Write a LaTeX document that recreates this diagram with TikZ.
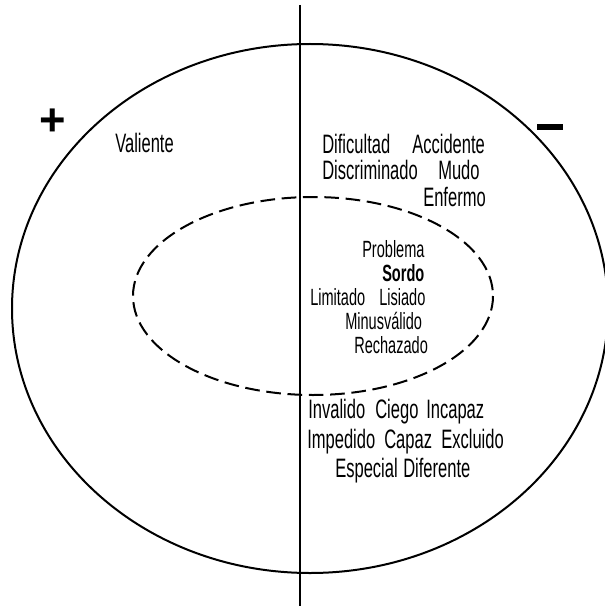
\documentclass[tikz,border=0pt]{standalone}
\usepackage{fontspec}
\setmainfont{Liberation Sans}[FakeStretch=0.62]
\newfontfamily\signfont{Liberation Sans}
\usetikzlibrary{positioning}

\tikzset{
  word/.style={anchor=base west, inner sep=0pt, font=\fontsize{20}{22}\selectfont},
  inword/.style={word, font=\fontsize{17.6}{20}\selectfont},
  ring/.style={line width=1.5pt},
  inring/.style={line width=1.5pt, dash pattern=on 11pt off 5pt}
}

\begin{document}
\begin{tikzpicture}[x=0.75pt, y=-0.75pt]
\useasboundingbox (0,0) rectangle (605,606);
\clip (0,0) rectangle (605,606);
% circles and axis
\draw[ring] (310,308.5) ellipse (298 and 264.5);
\draw[inring] (313,296) ellipse (180 and 99);
\draw[ring] (300,5) -- (300,606);

% signs
\node[font=\signfont\fontsize{34}{34}\selectfont\bfseries, inner sep=0pt] (plus) at (53,122) {+};
\node[fill, inner sep=0pt, minimum width=19.5pt, minimum height=4.5pt] (minus) at (550,127) {};

% positive side
\node[word] (valiente) at (115,152) {Valiente};

% outer words, negative side
\node[word] (dificultad) at (322,153) {Dificultad};
\node[word] (accidente) at (412,153) {Accidente};
\node[word] (discriminado) at (322,180) {Discriminado};
\node[word] (mudo) at (438,180) {Mudo};
\node[word] (enfermo) at (423,206) {Enfermo};

% inner words
\node[inword] (problema) at (362,257) {Problema};
\node[inword, font=\fontsize{17.6}{20}\selectfont\bfseries] (sordo) at (382,281) {Sordo};
\node[inword] (limitado) at (310,305) {Limitado};
\node[inword] (lisiado) at (379,305) {Lisiado};
\node[inword] (minusvalido) at (345,329) {Minusválido};
\node[inword] (rechazado) at (354,353) {Rechazado};

% lower words
\node[word] (invalido) at (308,418) {Invalido};
\node[word] (ciego) at (375,418) {Ciego};
\node[word] (incapaz) at (426,418) {Incapaz};
\node[word] (impedido) at (307,448) {Impedido};
\node[word] (capaz) at (384,448) {Capaz};
\node[word] (excluido) at (441,448) {Excluido};
\node[word] (especial) at (335,477) {Especial};
\node[word] (diferente) at (403,477) {Diferente};
\end{tikzpicture}
\end{document}
